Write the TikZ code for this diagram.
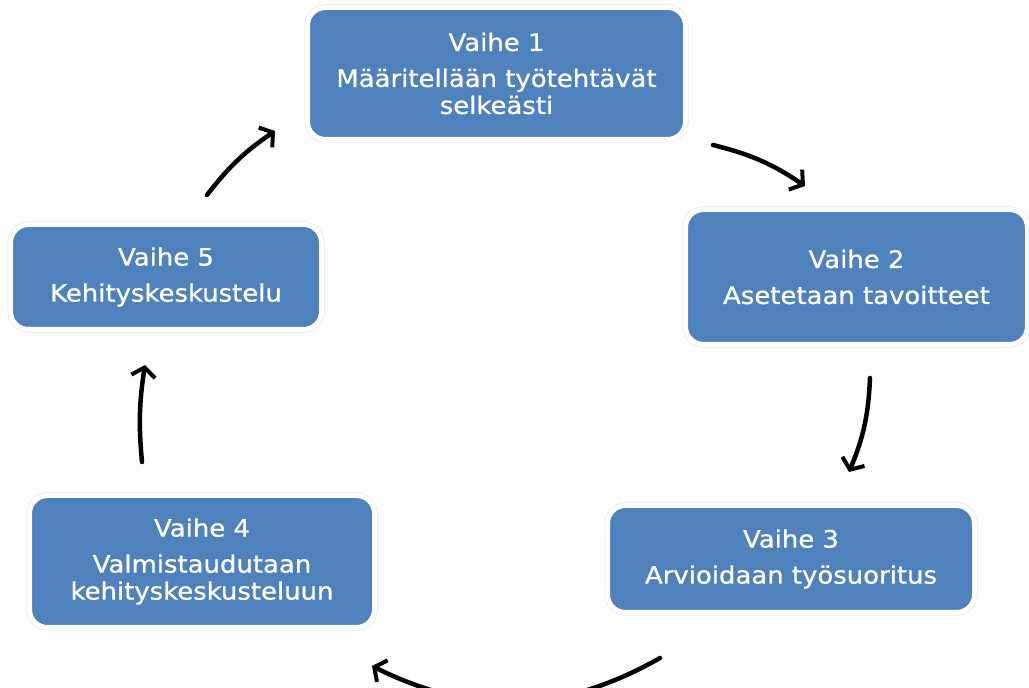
\documentclass[tikz,border=0pt]{standalone}
\usepackage{fontspec}
\setmainfont{DejaVu Sans}[FakeStretch=1.08,FakeBold=0.8]
\usetikzlibrary{arrows.meta}
\definecolor{boxblue}{HTML}{4F81BD}
\tikzset{
  stage/.style={rounded corners=18pt, fill=boxblue, draw=white, line width=5pt,
    preaction={draw=gray!25, line width=6pt},
    text=white, align=center, inner sep=0pt,
    font=\fontsize{24pt}{27pt}\selectfont},
  cyc/.style={line width=4.5pt, -{Straight Barb[length=9pt,width=24pt,line width=4pt]}, line cap=round}
}
\begin{document}
\begin{tikzpicture}[x=1pt,y=1pt]
\useasboundingbox (0,0) rectangle (1029,688);
\node[stage, minimum width=378pt, minimum height=132pt] (s1) at (496.5,614.5) {Vaihe 1\\[9pt]Määritellään työtehtävät\\selkeästi};
\node[stage, minimum width=342pt, minimum height=135pt] (s2) at (856.5,411) {Vaihe 2\\[9pt]Asetetaan tavoitteet};
\node[stage, minimum width=367pt, minimum height=107pt] (s3) at (791,129) {Vaihe 3\\[9pt]Arvioidaan työsuoritus};
\node[stage, minimum width=345pt, minimum height=132pt] (s4) at (202,126.5) {Vaihe 4\\[9pt]Valmistaudutaan\\kehityskeskusteluun};
\node[stage, minimum width=311pt, minimum height=105pt] (s5) at (166,411) {Vaihe 5\\[9pt]Kehityskeskustelu};

\coordinate (a1) at (713,543); \coordinate (b1) at (805,502);
\coordinate (a2) at (870,310); \coordinate (b2) at (849,216);
\coordinate (a3) at (660,30);  \coordinate (b3) at (372,22);
\coordinate (a4) at (142,226); \coordinate (b4) at (145,323);
\coordinate (a5) at (207,493); \coordinate (b5) at (275,557);

\draw[cyc] (a1) to[bend left=10] (b1);
\draw[cyc] (a2) to[bend left=10] (b2);
\draw[cyc] (a3) to[bend left=28] (b3);
\draw[cyc] (a4) to[bend left=7] (b4);
\draw[cyc] (a5) to[bend left=9] (b5);
\end{tikzpicture}
\end{document}
